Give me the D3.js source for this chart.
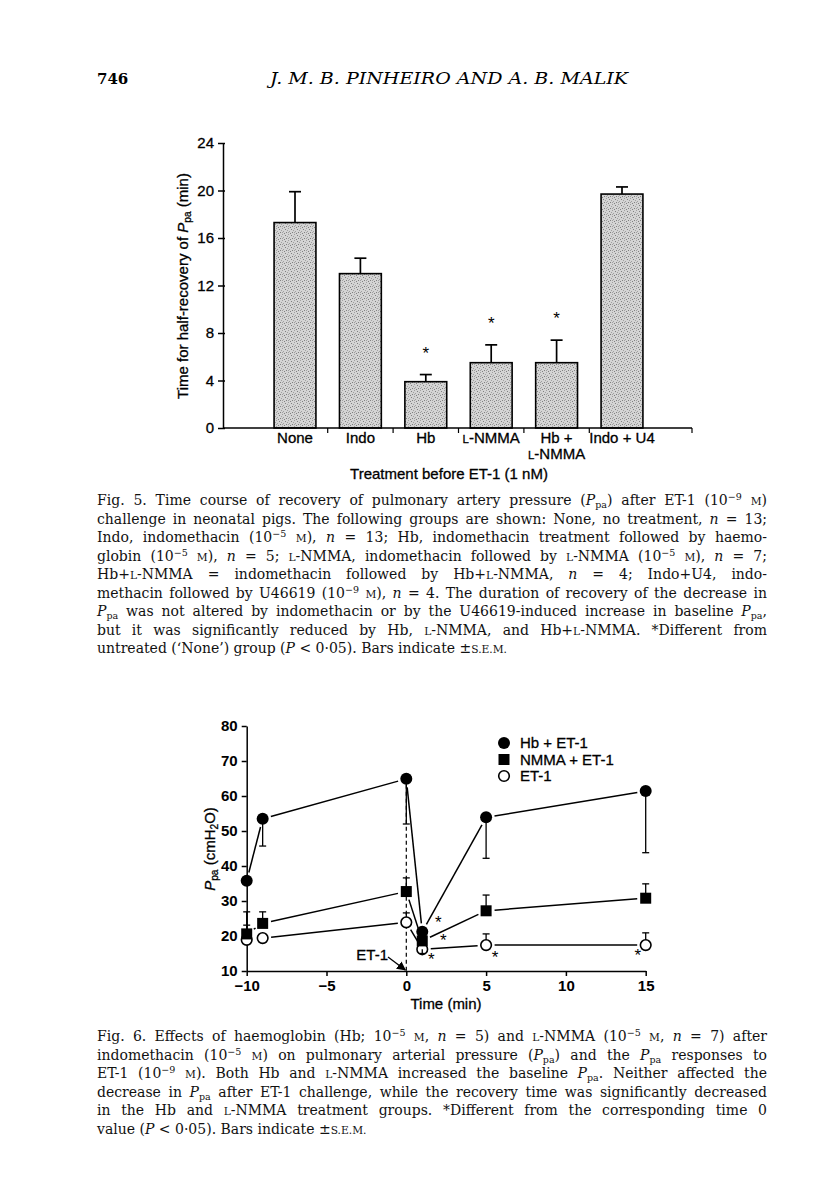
<!DOCTYPE html>
<html>
<head>
<meta charset="utf-8">
<script src="https://cdn.jsdelivr.net/npm/d3@7"></script>
<style>
body{margin:0;background:#fff;}
svg{display:block;}
</style>
</head>
<body>
<svg id="page" width="816" height="1200"></svg>
<script>
// ---- Fig. 5 data ----
var treatments=["None","Indo","Hb","L-NMMA","Hb + L-NMMA","Indo + U4"];
var treatmentLabels=[["None"],["Indo"],["Hb"],["c{L}-NMMA"],["Hb +","c{L}-NMMA"],["Indo + U4"]];
var halfRecovery=[17.3,13.0,3.9,5.5,5.5,19.7];
var halfRecoverySem=[2.6,1.3,0.6,1.5,1.9,0.6];
var halfRecoveryStar=[false,false,true,true,true,false];
var yTicks5=[0,4,8,12,16,20,24];

// ---- Fig. 6 data ----
var times=[-10,-9,0,1,5,15];
var hbEt1=[35.8,53.5,64.9,21.2,53.9,61.4];
var hbEt1Sem=[0,-7.8,-12.9,0,-11.7,-17.6];   // negative = bar drawn downwards
var nmmaEt1=[20.6,23.6,32.7,18.6,27.2,30.8];
var nmmaEt1Sem=[6.3,3.3,3.9,0,4.5,4.1];
var et1=[18.9,19.4,23.9,16.2,17.4,17.4];
var et1Sem=[4.2,0,2.7,-1.2,3.2,3.5];
var xTicks6=[-10,-5,0,5,10,15];
var yTicks6=[10,20,30,40,50,60,70,80];

// ---- text ----
var caption5=[
 "Fig. 5. Time course of recovery of pulmonary artery pressure (i{P}s{pa}) after ET-1 (10p{−9} c{M})",
 "challenge in neonatal pigs. The following groups are shown: None, no treatment, i{n} = 13;",
 "Indo, indomethacin (10p{−5} c{M}), i{n} = 13; Hb, indomethacin treatment followed by haemo-",
 "globin (10p{−5} c{M}), i{n} = 5; c{L}-NMMA, indomethacin followed by c{L}-NMMA (10p{−5} c{M}), i{n} = 7;",
 "Hb+c{L}-NMMA = indomethacin followed by Hb+c{L}-NMMA, i{n} = 4; Indo+U4, indo-",
 "methacin followed by U46619 (10p{−9} c{M}), i{n} = 4. The duration of recovery of the decrease in",
 "i{P}s{pa} was not altered by indomethacin or by the U46619-induced increase in baseline i{P}s{pa},",
 "but it was significantly reduced by Hb, c{L}-NMMA, and Hb+c{L}-NMMA. *Different from",
 "untreated (‘None’) group (i{P} < 0·05). Bars indicate ±c{S.E.M.}"
];
var caption6=[
 "Fig. 6. Effects of haemoglobin (Hb; 10p{−5} c{M}, i{n} = 5) and c{L}-NMMA (10p{−5} c{M}, i{n} = 7) after",
 "indomethacin (10p{−5} c{M}) on pulmonary arterial pressure (i{P}s{pa}) and the i{P}s{pa} responses to",
 "ET-1 (10p{−9} c{M}). Both Hb and c{L}-NMMA increased the baseline i{P}s{pa}. Neither affected the",
 "decrease in i{P}s{pa} after ET-1 challenge, while the recovery time was significantly decreased",
 "in the Hb and c{L}-NMMA treatment groups. *Different from the corresponding time 0",
 "value (i{P} < 0·05). Bars indicate ±c{S.E.M.}"
];

var svg=d3.select('#page');
var sans="'Liberation Sans', Arial, sans-serif";
var serif="'DejaVu Serif', serif";

function addRich(t,str){
    var re=/([ispc])\{([^}]*)\}/g, last=0, m;
    while((m=re.exec(str))){
        if(m.index>last) t.append('tspan').text(str.slice(last,m.index));
        var s=t.append('tspan').text(m[2]);
        if(m[1]=='i') s.style('font-style','italic');
        if(m[1]=='s') s.attr('baseline-shift','-3').style('font-size','0.68em');
        if(m[1]=='p') s.attr('baseline-shift','5').style('font-size','0.68em');
        if(m[1]=='c') s.style('font-size','0.76em');
        last=re.lastIndex;
    }
    if(last<str.length) t.append('tspan').text(str.slice(last));
    return t;
}
function chartText(sel){
    return sel.style('font-family',sans).style('font-size','15px').attr('fill','#000')
        .attr('stroke','#000').attr('stroke-width',0.3);
}

// header
svg.append('text').attr('x',97).attr('y',84).style('font-family',serif).style('font-size','15px')
    .style('font-weight','bold').text('746');
svg.append('text').attr('x',270).attr('y',84).style('font-family',serif).style('font-size','17px')
    .style('font-style','italic').attr('textLength',358).attr('lengthAdjust','spacingAndGlyphs')
    .text('J. M. B. PINHEIRO  AND  A. B. MALIK');

// ---------- Fig. 5 bar chart ----------
var x5=d3.scaleBand().domain(treatments).range([262.3,654.7]);
var y5=d3.scaleLinear().domain([0,24]).range([428,143]);
var barW=x5.bandwidth()*0.64;

var defs=svg.append('defs');
var pat=defs.append('pattern').attr('id','stipple').attr('width',6).attr('height',6)
    .attr('patternUnits','userSpaceOnUse');
pat.append('rect').attr('width',6).attr('height',6).attr('fill','#d4d4d4');
[[0,0],[3,1],[1,3],[4,4],[5,2],[2,5],[0,4]].forEach(function(p,i){
    pat.append('rect').attr('x',p[0]).attr('y',p[1]).attr('width',1).attr('height',1)
        .attr('fill',i%2?'#808080':'#a0a0a0');
});

var g5=svg.append('g');
treatments.forEach(function(d,i){
    var cx=x5(d)+x5.bandwidth()/2;
    var top=y5(halfRecovery[i]+halfRecoverySem[i]);
    g5.append('line').attr('x1',cx).attr('x2',cx).attr('y1',y5(halfRecovery[i])).attr('y2',top)
        .attr('stroke','#000').attr('stroke-width',1.7);
    g5.append('line').attr('x1',cx-6).attr('x2',cx+6).attr('y1',top).attr('y2',top)
        .attr('stroke','#000').attr('stroke-width',1.7);
    if(halfRecoveryStar[i]){
        g5.append('text').attr('x',cx).attr('y',top-16).attr('text-anchor','middle')
            .style('font-family',sans).style('font-size','17px').text('*');
    }
});
g5.selectAll('rect.bar').data(treatments).enter().append('rect').attr('class','bar')
    .attr('x',function(d){return x5(d)+(x5.bandwidth()-barW)/2;})
    .attr('y',function(d,i){return y5(halfRecovery[i]);})
    .attr('width',barW)
    .attr('height',function(d,i){return y5(0)-y5(halfRecovery[i]);})
    .attr('fill','url(#stipple)').attr('stroke','#000').attr('stroke-width',1.6);

var ay5=g5.append('g').attr('transform','translate(223,0)')
    .call(d3.axisLeft(y5).tickValues(yTicks5).tickSize(5).tickSizeOuter(0).tickPadding(4));
chartText(ay5.selectAll('text'));
ay5.selectAll('line,path').attr('stroke','#000').attr('stroke-width',1.5);
ay5.selectAll('.tick line').attr('x2',-5).attr('x1',2);

g5.append('line').attr('x1',223).attr('x2',692).attr('y1',428).attr('y2',428)
    .attr('stroke','#000').attr('stroke-width',1.5);
var seps=treatments.slice(1).map(function(d){return x5(d);}).concat([692]);
seps.forEach(function(sx){
    g5.append('line').attr('x1',sx).attr('x2',sx).attr('y1',428).attr('y2',433)
        .attr('stroke','#000').attr('stroke-width',1.2);
});
treatments.forEach(function(d,i){
    treatmentLabels[i].forEach(function(l,j){
        addRich(chartText(g5.append('text').attr('x',x5(d)+x5.bandwidth()/2).attr('y',443+j*16)
            .attr('text-anchor','middle').style('font-size','14.5px')),l);
    });
});
chartText(g5.append('text').attr('x',449).attr('y',479).attr('text-anchor','middle'))
    .text('Treatment before ET-1 (1 nM)');
addRich(chartText(g5.append('text').attr('transform','translate(188,286) rotate(-90)')
    .attr('text-anchor','middle')),'Time for half-recovery of i{P}s{pa} (min)');

// ---------- captions (justified with word spacing) ----------
function caption(lines,top){
    lines.forEach(function(l,i){
        var t=svg.append('text').attr('x',97).attr('y',top+i*18.5)
            .style('font-family',serif).style('font-size','14px').attr('fill','#111');
        addRich(t,l);
        if(i<lines.length-1){
            var w=t.node().getComputedTextLength();
            var plain=l.replace(/[ispc]\{([^}]*)\}/g,'$1');
            var n=plain.split(' ').length-1;
            t.style('word-spacing',((670-w)/n)+'px');
        }
    });
}
caption(caption5,505);
caption(caption6,1041);

// ---------- Fig. 6 line chart ----------
var x6=d3.scaleLinear().domain([-10,15]).range([246.7,645.7]);
var y6=d3.scaleLinear().domain([10,80]).range([971,726]);
var g6=svg.append('g');

var series=[
    {name:'Hb + ET-1',vals:hbEt1,sem:hbEt1Sem,shape:'dot'},
    {name:'NMMA + ET-1',vals:nmmaEt1,sem:nmmaEt1Sem,shape:'square'},
    {name:'ET-1',vals:et1,sem:et1Sem,shape:'open'}
];

var ay6=g6.append('g').attr('transform','translate(246.7,0)')
    .call(d3.axisLeft(y6).tickValues(yTicks6).tickSize(5).tickSizeOuter(0).tickPadding(4));
var ax6=g6.append('g').attr('transform','translate(0,971)')
    .call(d3.axisBottom(x6).tickValues(xTicks6).tickSize(5).tickSizeOuter(0).tickPadding(4));
[ay6,ax6].forEach(function(a){
    chartText(a.selectAll('text')).style('font-weight','bold').attr('stroke-width',0);
    a.selectAll('line,path').attr('stroke','#000').attr('stroke-width',1.5);
});
chartText(g6.append('text').attr('x',446).attr('y',1009).attr('text-anchor','middle')).text('Time (min)');
addRich(chartText(g6.append('text').attr('transform','translate(215,849) rotate(-90)')
    .attr('text-anchor','middle')),'i{P}s{pa} (cmHs{2}O)');

// dashed ET-1 injection line
g6.append('line').attr('x1',x6(0)).attr('x2',x6(0)).attr('y1',y6(hbEt1[2])+6).attr('y2',y6(10))
    .attr('stroke','#000').attr('stroke-width',1.2).attr('stroke-dasharray','4,3');

// connecting segments, trimmed near markers
var gap=8.5;
series.forEach(function(s){
    for(var i=0;i<times.length-1;i++){
        var ax=x6(times[i]),ay=y6(s.vals[i]),bx=x6(times[i+1]),by=y6(s.vals[i+1]);
        var len=Math.hypot(bx-ax,by-ay);
        if(len<2*gap+2) continue;
        var ux=(bx-ax)/len,uy=(by-ay)/len;
        g6.append('line').attr('x1',ax+ux*gap).attr('y1',ay+uy*gap)
            .attr('x2',bx-ux*gap).attr('y2',by-uy*gap)
            .attr('stroke','#000').attr('stroke-width',1.5);
    }
});

var r=6;
function errBar(cx,v,sem){
    var yEnd=y6(v+sem);
    g6.append('line').attr('x1',cx).attr('x2',cx).attr('y1',y6(v)).attr('y2',yEnd)
        .attr('stroke','#000').attr('stroke-width',1.3);
    g6.append('line').attr('x1',cx-3.5).attr('x2',cx+3.5).attr('y1',yEnd).attr('y2',yEnd)
        .attr('stroke','#000').attr('stroke-width',1.3);
}
series.forEach(function(s){
    times.forEach(function(t,i){
        if(s.sem[i]!=0 && Math.abs(y6(s.vals[i]+s.sem[i])-y6(s.vals[i]))>r+1) errBar(x6(t),s.vals[i],s.sem[i]);
    });
});

function marker(g,shape,cx,cy){
    if(shape=='dot') g.append('circle').attr('cx',cx).attr('cy',cy).attr('r',r).attr('fill','#000');
    else if(shape=='square') g.append('rect').attr('x',cx-5.5).attr('y',cy-5.5).attr('width',11).attr('height',11).attr('fill','#000');
    else g.append('circle').attr('cx',cx).attr('cy',cy).attr('r',r-0.7).attr('fill','#fff')
        .attr('stroke','#000').attr('stroke-width',1.6);
}
series.slice().reverse().forEach(function(s){
    times.forEach(function(t,i){ marker(g6,s.shape,x6(t),y6(s.vals[i])); });
});
series.forEach(function(s){
    times.forEach(function(t,i){
        if(s.sem[i]!=0 && Math.abs(y6(s.vals[i]+s.sem[i])-y6(s.vals[i]))<=r+1) errBar(x6(t),s.vals[i],s.sem[i]);
    });
});

// significance stars: [series index, time index, dx, dy]
var stars6=[[0,3,16,-12],[1,3,21,-3],[2,3,9,8],[2,4,9,10],[2,5,-8,8]];
stars6.forEach(function(st){
    var s=series[st[0]];
    g6.append('text').attr('x',x6(times[st[1]])+st[2]).attr('y',y6(s.vals[st[1]])+st[3]+8)
        .attr('text-anchor','middle').style('font-family',sans).style('font-size','17px').text('*');
});

// ET-1 arrow
defs.append('marker').attr('id','arr').attr('viewBox','0 0 10 10').attr('refX',9).attr('refY',5)
    .attr('markerWidth',7).attr('markerHeight',7).attr('orient','auto')
    .append('path').attr('d','M0,0L10,5L0,10z').attr('fill','#000');
chartText(g6.append('text').attr('x',388).attr('y',960).attr('text-anchor','end')).text('ET-1');
g6.append('line').attr('x1',388).attr('y1',957).attr('x2',x6(0)-1).attr('y2',y6(10)-1)
    .attr('stroke','#000').attr('stroke-width',1.3).attr('marker-end','url(#arr)');

// legend
series.forEach(function(s,i){
    var ly=743+i*16.5;
    marker(g6,s.shape,504,ly);
    chartText(g6.append('text').attr('x',520).attr('y',ly+5)).text(s.name);
});
</script>
</body>
</html>
